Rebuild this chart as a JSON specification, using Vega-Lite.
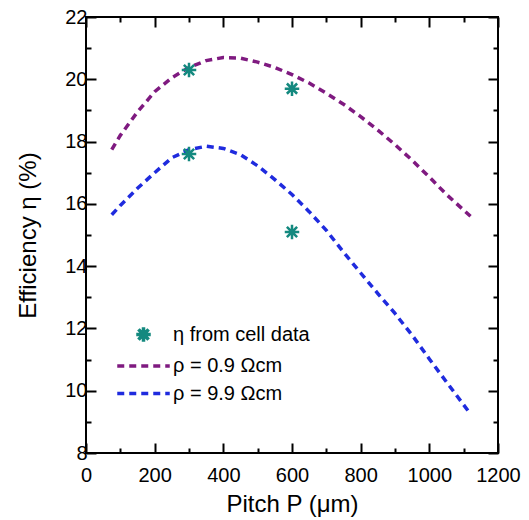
{
  "$schema": "https://vega.github.io/schema/vega-lite/v6.json",
  "width": 412,
  "height": 436,
  "autosize": "none",
  "padding": {"left": 86, "top": 17, "right": 31, "bottom": 67},
  "background": "white",
  "config": {
    "font": "Liberation Sans",
    "view": {"stroke": "black", "strokeWidth": 2},
    "axis": {
      "domain": false,
      "grid": false,
      "tickColor": "black",
      "tickWidth": 2,
      "labelColor": "black",
      "titleColor": "black",
      "labelFont": "Liberation Sans",
      "titleFont": "Liberation Sans",
      "labelFontSize": 20,
      "titleFontSize": 24,
      "titleFontWeight": "normal",
      "labelFlush": false,
      "labelOverlap": false
    }
  },
  "datasets": {
    "curves": [
      {"series": "ρ = 0.9 Ωcm", "P": 75, "eta": 17.74},
      {"series": "ρ = 0.9 Ωcm", "P": 100, "eta": 18.2},
      {"series": "ρ = 0.9 Ωcm", "P": 150, "eta": 18.95},
      {"series": "ρ = 0.9 Ωcm", "P": 200, "eta": 19.6},
      {"series": "ρ = 0.9 Ωcm", "P": 250, "eta": 20.05},
      {"series": "ρ = 0.9 Ωcm", "P": 300, "eta": 20.38},
      {"series": "ρ = 0.9 Ωcm", "P": 350, "eta": 20.6},
      {"series": "ρ = 0.9 Ωcm", "P": 400, "eta": 20.7},
      {"series": "ρ = 0.9 Ωcm", "P": 450, "eta": 20.68},
      {"series": "ρ = 0.9 Ωcm", "P": 500, "eta": 20.55},
      {"series": "ρ = 0.9 Ωcm", "P": 550, "eta": 20.38},
      {"series": "ρ = 0.9 Ωcm", "P": 600, "eta": 20.15},
      {"series": "ρ = 0.9 Ωcm", "P": 650, "eta": 19.88},
      {"series": "ρ = 0.9 Ωcm", "P": 700, "eta": 19.55},
      {"series": "ρ = 0.9 Ωcm", "P": 750, "eta": 19.2},
      {"series": "ρ = 0.9 Ωcm", "P": 800, "eta": 18.8},
      {"series": "ρ = 0.9 Ωcm", "P": 850, "eta": 18.37},
      {"series": "ρ = 0.9 Ωcm", "P": 900, "eta": 17.9},
      {"series": "ρ = 0.9 Ωcm", "P": 950, "eta": 17.4},
      {"series": "ρ = 0.9 Ωcm", "P": 1000, "eta": 16.86},
      {"series": "ρ = 0.9 Ωcm", "P": 1050, "eta": 16.3},
      {"series": "ρ = 0.9 Ωcm", "P": 1120, "eta": 15.6},
      {"series": "ρ = 9.9 Ωcm", "P": 75, "eta": 15.65},
      {"series": "ρ = 9.9 Ωcm", "P": 100, "eta": 15.95},
      {"series": "ρ = 9.9 Ωcm", "P": 150, "eta": 16.5},
      {"series": "ρ = 9.9 Ωcm", "P": 200, "eta": 17.0},
      {"series": "ρ = 9.9 Ωcm", "P": 250, "eta": 17.48},
      {"series": "ρ = 9.9 Ωcm", "P": 300, "eta": 17.74},
      {"series": "ρ = 9.9 Ωcm", "P": 350, "eta": 17.85},
      {"series": "ρ = 9.9 Ωcm", "P": 400, "eta": 17.78},
      {"series": "ρ = 9.9 Ωcm", "P": 450, "eta": 17.58},
      {"series": "ρ = 9.9 Ωcm", "P": 500, "eta": 17.22},
      {"series": "ρ = 9.9 Ωcm", "P": 550, "eta": 16.78},
      {"series": "ρ = 9.9 Ωcm", "P": 600, "eta": 16.3},
      {"series": "ρ = 9.9 Ωcm", "P": 650, "eta": 15.75},
      {"series": "ρ = 9.9 Ωcm", "P": 700, "eta": 15.15},
      {"series": "ρ = 9.9 Ωcm", "P": 750, "eta": 14.45},
      {"series": "ρ = 9.9 Ωcm", "P": 800, "eta": 13.78},
      {"series": "ρ = 9.9 Ωcm", "P": 850, "eta": 13.12},
      {"series": "ρ = 9.9 Ωcm", "P": 900, "eta": 12.48},
      {"series": "ρ = 9.9 Ωcm", "P": 950, "eta": 11.78},
      {"series": "ρ = 9.9 Ωcm", "P": 1000, "eta": 11.02},
      {"series": "ρ = 9.9 Ωcm", "P": 1050, "eta": 10.28},
      {"series": "ρ = 9.9 Ωcm", "P": 1120, "eta": 9.25}
    ],
    "cells": [
      {"series": "η from cell data", "P": 300, "eta": 20.3},
      {"series": "η from cell data", "P": 300, "eta": 17.6},
      {"series": "η from cell data", "P": 600, "eta": 19.7},
      {"series": "η from cell data", "P": 600, "eta": 15.1}
    ]
  },
  "layer": [
    {
      "data": {"name": "curves"},
      "mark": {"type": "line", "strokeWidth": 3.5, "strokeCap": "butt"},
      "encoding": {
        "x": {
          "field": "P", "type": "quantitative",
          "scale": {"domain": [0, 1200], "nice": false},
          "axis": {
            "orient": "bottom",
            "title": "Pitch P (μm)",
            "values": [0,100,200,300,400,500,600,700,800,900,1000,1100,1200],
            "labelExpr": "datum.value % 200 === 0 ? datum.label : ''",
            "format": "d",
            "tickSize": {"condition": {"test": "datum.value % 200 === 0", "value": -10}, "value": -5},
            "labelPadding": 22,
            "titlePadding": 2
          }
        },
        "y": {
          "field": "eta", "type": "quantitative",
          "scale": {"domain": [8, 22], "nice": false, "zero": false},
          "axis": {
            "orient": "left",
            "title": "Efficiency η (%)",
            "values": [8,9,10,11,12,13,14,15,16,17,18,19,20,21,22],
            "labelExpr": "datum.value % 2 === 0 ? datum.label : ''",
            "tickSize": {"condition": {"test": "datum.value % 2 === 0", "value": -10}, "value": -5},
            "labelPadding": 9,
            "titlePadding": 24
          }
        },
        "color": {
          "field": "series", "type": "nominal",
          "scale": {"domain": ["η from cell data", "ρ = 0.9 Ωcm", "ρ = 9.9 Ωcm"], "range": ["#14897f", "#7f1a80", "#1f2bde"]},
          "legend": {
            "title": null,
            "orient": "none",
            "legendX": 43,
            "legendY": 303,
            "symbolSize": 625,
            "symbolStrokeWidth": 3.5,
            "labelFontSize": 20,
            "labelColor": "black",
            "labelOffset": 15,
            "rowPadding": 2.5,
            "padding": 0
          }
        },
        "strokeDash": {
          "field": "series", "type": "nominal",
          "scale": {"domain": ["η from cell data", "ρ = 0.9 Ωcm", "ρ = 9.9 Ωcm"], "range": [[1, 0], [7, 5], [7, 5]]},
          "legend": {"title": null}
        }
      }
    },
    {
      "data": {"name": "cells"},
      "mark": {"type": "point", "filled": false, "size": 625, "strokeWidth": 2.5, "opacity": 1},
      "encoding": {
        "x": {
          "field": "P", "type": "quantitative",
          "axis": {
            "orient": "top",
            "title": null,
            "labels": false,
            "values": [0,100,200,300,400,500,600,700,800,900,1000,1100,1200],
            "tickSize": {"condition": {"test": "datum.value % 200 === 0", "value": -10}, "value": -5}
          }
        },
        "y": {
          "field": "eta", "type": "quantitative",
          "axis": {
            "orient": "right",
            "title": null,
            "labels": false,
            "values": [8,9,10,11,12,13,14,15,16,17,18,19,20,21,22],
            "tickSize": {"condition": {"test": "datum.value % 2 === 0", "value": -10}, "value": -5}
          }
        },
        "color": {
          "field": "series", "type": "nominal",
          "scale": {"domain": ["η from cell data", "ρ = 0.9 Ωcm", "ρ = 9.9 Ωcm"], "range": ["#14897f", "#7f1a80", "#1f2bde"]},
          "legend": {"title": null}
        },
        "shape": {
          "field": "series", "type": "nominal",
          "scale": {"domain": ["η from cell data", "ρ = 0.9 Ωcm", "ρ = 9.9 Ωcm"], "range": ["M0,-0.58L0,0.58M-0.58,0L0.58,0M-0.41,-0.41L0.41,0.41M-0.41,0.41L0.41,-0.41", "M-2.1,0L2.1,0", "M-2.1,0L2.1,0"]},
          "legend": {"title": null}
        }
      }
    }
  ],
  "resolve": {"axis": {"x": "independent", "y": "independent"}}
}
